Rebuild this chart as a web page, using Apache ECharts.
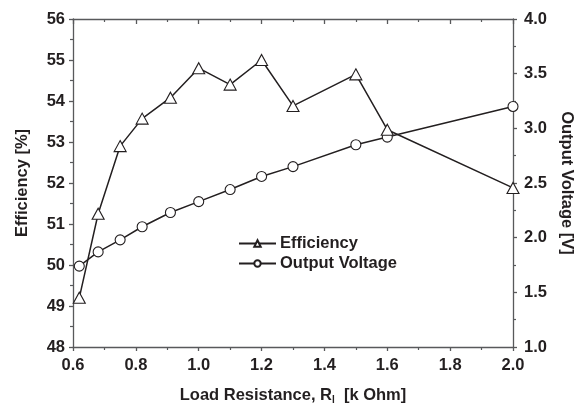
<!DOCTYPE html>
<html>
<head>
<meta charset="utf-8">
<script src="https://cdn.jsdelivr.net/npm/echarts@6/dist/echarts.min.js"></script>
<style>
  html, body { margin: 0; padding: 0; background: #fff; }
  #main { width: 580px; height: 405px; }
</style>
</head>
<body>
<div id="main"></div>
<script>
// load resistance in k Ohm
var resistance = [0.62, 0.68, 0.75, 0.82, 0.91, 1.0, 1.1, 1.2, 1.3, 1.5, 1.6, 2.0];
// efficiency [%]
var efficiency = [49.2, 51.25, 52.9, 53.57, 54.08, 54.8, 54.4, 55.0, 53.88, 54.65, 53.3, 51.88];
// output voltage [V]
var voltage = [1.74, 1.87, 1.98, 2.1, 2.23, 2.33, 2.44, 2.56, 2.65, 2.85, 2.92, 3.2];

var axisColor = '#58595b';
var textColor = '#231f20';
var font = "'Liberation Sans', Arial, sans-serif";

function pairs(xs, ys) {
  var out = [];
  for (var i = 0; i < xs.length; i++) out.push([xs[i], ys[i]]);
  return out;
}

var labelStyle = {
  color: textColor,
  fontFamily: font,
  fontWeight: 'bold',
  fontSize: 16.5
};
var nameStyle = {
  color: textColor,
  fontFamily: font,
  fontWeight: 'bold',
  fontSize: 16.5
};

var chart = echarts.init(document.getElementById('main'));

var option = {
  backgroundColor: '#fff',
  animation: false,
  // keep the plot box fixed, labels may run to the edge
  grid: { left: 73, right: 67, top: 19, bottom: 58, containLabel: false, outerBoundsMode: 'none' },
  legend: {
    orient: 'vertical',
    left: 233,
    top: 230,
    itemWidth: 37,
    itemHeight: 8,
    itemGap: 3,
    textStyle: { color: textColor, fontFamily: font, fontWeight: 'bold', fontSize: 16.5, padding: [0, 0, 0, -1] },
    data: ['Efficiency', 'Output Voltage']
  },
  xAxis: [{
    type: 'value',
    min: 0.6,
    max: 2.0,
    interval: 0.2,
    name: 'Load Resistance, R{s|l}  [k Ohm]',
    nameLocation: 'middle',
    nameGap: 39,
    nameTextStyle: Object.assign({}, nameStyle, {
      rich: { s: { fontSize: 10, fontWeight: 'bold', verticalAlign: 'bottom', padding: [9, 0, 0, 0] } }
    }),
    axisLine: { onZero: false, lineStyle: { color: axisColor, width: 1.3 } },
    axisTick: { inside: false, length: 4, lineStyle: { color: axisColor, width: 1.3 } },
    minorTick: { show: true, splitNumber: 2, length: 3, lineStyle: { color: axisColor, width: 1.2 } },
    splitLine: { show: false },
    axisLabel: Object.assign({}, labelStyle, {
      margin: 10,
      formatter: function (v) { return v.toFixed(1); }
    })
  }, {
    type: 'value',
    position: 'top',
    min: 0.6,
    max: 2.0,
    interval: 0.2,
    axisLine: { onZero: false, lineStyle: { color: axisColor, width: 1.3 } },
    axisTick: { inside: true, length: 5, lineStyle: { color: axisColor, width: 1.3 } },
    minorTick: { show: true, splitNumber: 2, length: 3, lineStyle: { color: axisColor, width: 1.2 } },
    splitLine: { show: false },
    axisLabel: { show: false }
  }],
  yAxis: [{
    type: 'value',
    min: 48,
    max: 56,
    interval: 1,
    name: 'Efficiency [%]',
    nameLocation: 'middle',
    nameGap: 42,
    nameTextStyle: nameStyle,
    axisLine: { show: true, onZero: false, lineStyle: { color: axisColor, width: 1.3 } },
    axisTick: { show: true, length: 4, lineStyle: { color: axisColor, width: 1.3 } },
    minorTick: { show: true, splitNumber: 2, length: 3, lineStyle: { color: axisColor, width: 1.2 } },
    splitLine: { show: false },
    axisLabel: Object.assign({}, labelStyle, { margin: 8 })
  }, {
    type: 'value',
    position: 'right',
    min: 1.0,
    max: 4.0,
    interval: 0.5,
    name: 'Output Voltage [V]',
    nameLocation: 'middle',
    nameRotate: -90,
    nameGap: 43,
    nameTextStyle: nameStyle,
    axisLine: { show: true, onZero: false, lineStyle: { color: axisColor, width: 1.3 } },
    axisTick: { show: true, length: 4, lineStyle: { color: axisColor, width: 1.3 } },
    minorTick: { show: true, splitNumber: 2, length: 3, lineStyle: { color: axisColor, width: 1.2 } },
    splitLine: { show: false },
    axisLabel: Object.assign({}, labelStyle, {
      margin: 11,
      formatter: function (v) { return v.toFixed(1); }
    })
  }],
  series: [{
    name: 'Efficiency',
    type: 'line',
    xAxisIndex: 0,
    yAxisIndex: 0,
    data: pairs(resistance, efficiency),
    symbol: 'triangle',
    symbolSize: [12, 11],
    lineStyle: { color: '#231f20', width: 1.5 },
    itemStyle: { color: '#fff', borderColor: '#231f20', borderWidth: 1.1 },
    z: 3
  }, {
    name: 'Output Voltage',
    type: 'line',
    xAxisIndex: 0,
    yAxisIndex: 1,
    data: pairs(resistance, voltage),
    symbol: 'circle',
    symbolSize: 10,
    lineStyle: { color: '#231f20', width: 1.5 },
    itemStyle: { color: '#fff', borderColor: '#231f20', borderWidth: 1.1 },
    z: 2
  }]
};

chart.setOption(option);
</script>
</body>
</html>
